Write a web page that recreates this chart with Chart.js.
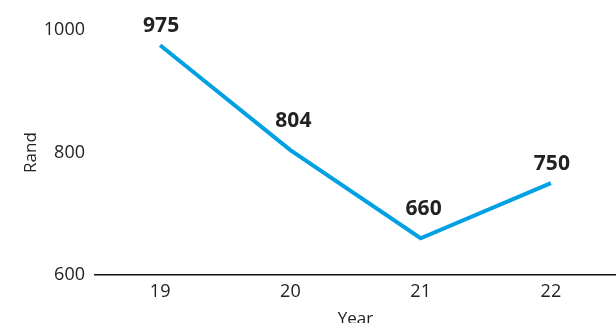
<!DOCTYPE html>
<html>
<head>
<meta charset="utf-8">
<script src="https://cdn.jsdelivr.net/npm/chart.js@4/dist/chart.umd.min.js"></script>
<style>
  html, body { margin: 0; padding: 0; background: #fff; overflow: hidden; }
  #wrap { width: 616px; height: 323px; overflow: hidden; }
  #box { width: 616px; height: 333px; }
</style>
</head>
<body>
<div id="wrap"><div id="box"><canvas id="chart"></canvas></div></div>
<script>
// chart data
const years = ['19', '20', '21', '22'];
const rand = [975, 804, 660, 750];
const yTicks = [600, 800, 1000];

const FONT = '"Open Sans", "DejaVu Sans", sans-serif';
const INK = '#222222';

// value labels above each point; inner points sit a bit higher to clear the line
const pointLabels = {
  id: 'pointLabels',
  afterDatasetsDraw(chart) {
    const ctx = chart.ctx;
    const meta = chart.getDatasetMeta(0);
    const last = meta.data.length - 1;
    ctx.save();
    ctx.font = 'bold 21px ' + FONT;
    ctx.fillStyle = INK;
    ctx.textAlign = 'center';
    ctx.textBaseline = 'middle';
    meta.data.forEach((pt, i) => {
      const lift = (i === 0 || i === last) ? 19 : 29;
      const nudge = (i === 0 || i === last) ? 1 : 3;
      ctx.fillText(rand[i], pt.x + nudge, pt.y - lift);
    });
    ctx.restore();
  }
};

new Chart(document.getElementById('chart'), {
  type: 'line',
  data: {
    labels: years,
    datasets: [{
      data: rand,
      borderColor: '#00a0e3',
      borderWidth: 4,
      pointRadius: 0,
      tension: 0,
      fill: false
    }]
  },
  options: {
    responsive: true,
    maintainAspectRatio: false,
    animation: false,
    layout: { padding: { top: 30, left: 17, right: 0, bottom: 0 } },
    plugins: { legend: { display: false }, tooltip: { enabled: false } },
    scales: {
      x: {
        offset: true,
        grid: { display: false, drawTicks: false },
        border: { display: true, color: '#111', width: 1.5 },
        ticks: { color: INK, font: { family: FONT, size: 18 }, padding: 6 },
        title: { display: true, text: 'Year', color: INK, font: { family: FONT, size: 17 }, padding: { top: 0 } }
      },
      y: {
        min: 600,
        max: 1000,
        afterBuildTicks(scale) { scale.ticks = yTicks.map(v => ({ value: v })); },
        afterFit(scale) { scale.width = 78; },
        grid: { display: false, drawTicks: false },
        border: { display: false },
        ticks: { color: INK, font: { family: FONT, size: 18 }, padding: 10, callback: v => String(v) },
        title: { display: true, text: 'Rand', color: INK, font: { family: FONT, size: 17 } }
      }
    }
  },
  plugins: [pointLabels]
});
</script>
</body>
</html>
